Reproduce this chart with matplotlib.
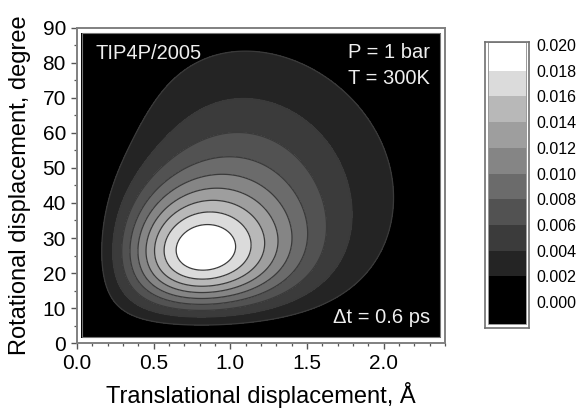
import numpy as np
import matplotlib.pyplot as plt
from matplotlib.patches import Rectangle
from matplotlib.ticker import MultipleLocator

plt.rcParams['font.family'] = ['Liberation Sans', 'DejaVu Sans']

# contour levels of the joint density and the gray used for each band
levels = [0.002, 0.004, 0.006, 0.008, 0.010, 0.012, 0.014, 0.016, 0.018]
band_grays = [0.0, 0.14, 0.23, 0.32, 0.42, 0.52, 0.62, 0.72, 0.86, 1.0]
cbar_ticks = [0.000, 0.002, 0.004, 0.006, 0.008, 0.010, 0.012, 0.014, 0.016, 0.018, 0.020]
cbar_labels = ['0.000', '0.002', '0.004', '0.006', '0.008', '0.010',
               '0.012', '0.014', '0.016', '0.018', '0.020']

# two populations (slow core, mobile tail): height and most probable displacements
amplitudes = [0.0163, 0.0066]
dr_modes = [0.79, 1.10]      # Angstrom
dphi_modes = [25.0, 45.0]    # degree

# sampled ranges of the two displacements
dr_range = (0.03, 2.37)
dphi_range = (1.7, 88.5)


def shape(s):
    # s^2 exp(1 - s^2): peaks at 1 for s = 1
    return s ** 2 * np.exp(1 - s ** 2)


dr = np.linspace(dr_range[0], dr_range[1], 400)
dphi = np.linspace(dphi_range[0], dphi_range[1], 400)
X, Y = np.meshgrid(dr, dphi)
Z = np.zeros_like(X)
for amp, xm, ym in zip(amplitudes, dr_modes, dphi_modes):
    Z += amp * shape(X / xm) * shape(Y / ym)

fig = plt.figure(figsize=(5.84, 4.08), dpi=100)
ax = fig.add_axes([0.132, 0.159, 0.630, 0.773])

colors = [str(g) for g in band_grays]
ax.contourf(X, Y, Z, levels=[-1] + levels + [1], colors=colors)
ax.contour(X, Y, Z, levels=levels, colors='#3a3a3a', linewidths=0.9)
ax.add_patch(Rectangle((dr_range[0], dphi_range[0]), dr_range[1] - dr_range[0],
                       dphi_range[1] - dphi_range[0], fill=False,
                       edgecolor='#777777', linewidth=0.8))

ax.set_xlim(0, 2.4)
ax.set_ylim(0, 90)
ax.xaxis.set_major_locator(MultipleLocator(0.5))
ax.xaxis.set_minor_locator(MultipleLocator(0.1))
ax.yaxis.set_major_locator(MultipleLocator(10))
ax.yaxis.set_minor_locator(MultipleLocator(5))
ax.set_xticks([0, 0.5, 1.0, 1.5, 2.0])
ax.set_xticklabels(['0.0', '0.5', '1.0', '1.5', '2.0'])
ax.tick_params(which='both', direction='out', color='#555555', labelsize=15, pad=4)
ax.tick_params(which='major', length=4, width=1)
ax.tick_params(which='minor', length=2.2, width=0.9)
for sp in ax.spines.values():
    sp.set_color('#808080')
    sp.set_linewidth(1.4)

ax.set_xlabel('Translational displacement, Å', fontsize=17, labelpad=6)
ax.set_ylabel('Rotational displacement, degree', fontsize=17, labelpad=8)

ax.text(0.049, 0.917, 'TIP4P/2005', transform=ax.transAxes, color='#eeeeee',
        fontsize=14.5, ha='left', va='center')
ax.text(0.959, 0.92, 'P = 1 bar', transform=ax.transAxes, color='#eeeeee',
        fontsize=14.5, ha='right', va='center')
ax.text(0.959, 0.84, 'T = 300K', transform=ax.transAxes, color='#eeeeee',
        fontsize=14.5, ha='right', va='center')
ax.text(0.959, 0.082, 'Δt = 0.6 ps', transform=ax.transAxes, color='#eeeeee',
        fontsize=14.5, ha='right', va='center')

# stepped color scale
cax = fig.add_axes([0.8305, 0.196, 0.0753, 0.701])
bounds = [-0.0017] + levels + [0.0202]
heights = np.diff(bounds)
cax.bar([0.5] * len(heights), heights, bottom=bounds[:-1], width=1,
        color=colors, edgecolor='none')
cax.add_patch(Rectangle((0, bounds[0]), 1, bounds[-1] - bounds[0], fill=False,
                        edgecolor='#999999', linewidth=0.7))
cax.set_xlim(-0.07, 1.07)
cax.set_ylim(-0.00202, 0.02023)
cax.set_xticks([])
cax.yaxis.tick_right()
cax.set_yticks(cbar_ticks)
cax.set_yticklabels(cbar_labels)
cax.tick_params(axis='y', length=0, pad=5, labelsize=11.5)
for sp in cax.spines.values():
    sp.set_color('#707070')
    sp.set_linewidth(1.2)

fig.savefig('out.png', dpi=100)
